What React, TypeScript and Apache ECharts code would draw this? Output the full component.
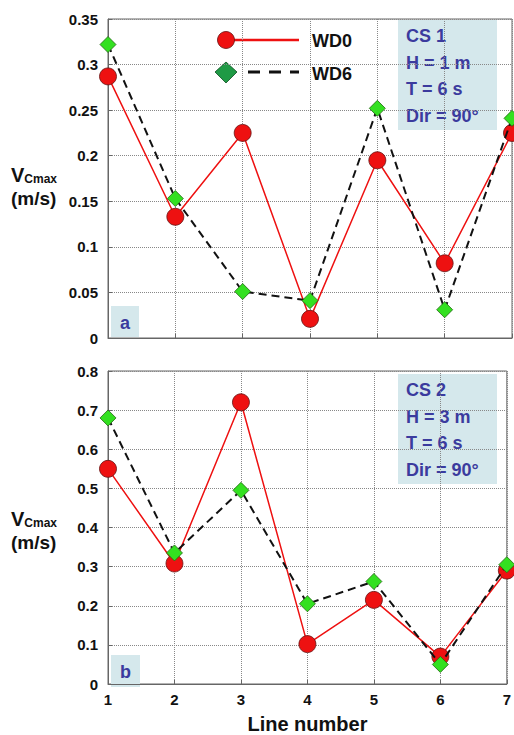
import React, { useEffect, useRef } from "react";
import * as echarts from "echarts";

const lineNumbers = [1, 2, 3, 4, 5, 6, 7];
const cs1WD0 = [0.287, 0.133, 0.225, 0.021, 0.195, 0.082, 0.225];
const cs1WD6 = [0.322, 0.153, 0.051, 0.041, 0.252, 0.031, 0.241];
const cs2WD0 = [0.55, 0.308, 0.72, 0.102, 0.215, 0.07, 0.29];
const cs2WD6 = [0.68, 0.335, 0.495, 0.205, 0.262, 0.05, 0.305];
const cs1Info = ["CS 1", "H = 1 m", "T = 6 s", "Dir = 90°"];
const cs2Info = ["CS 2", "H = 3 m", "T = 6 s", "Dir = 90°"];

const FONT = "'Liberation Sans', Arial, sans-serif";
const BLUE = "#3b3b9e";
const BOXBG = "#d5e8ec";

function pairs(xs: number[], ys: number[]) {
  return xs.map((x, i) => [x, ys[i]]);
}

function infoBox(x: number, y: number, lines: string[]) {
  return {
    type: "group",
    x,
    y,
    children: [
      { type: "rect", shape: { x: 0, y: 0, width: 99, height: 110 }, style: { fill: BOXBG } },
      ...lines.map((t, i) => ({
        type: "text",
        x: 8,
        y: 16 + i * 26.5,
        style: { text: t, fill: BLUE, font: `bold 18px ${FONT}`, textVerticalAlign: "middle" },
      })),
    ],
  };
}

function letterBox(x: number, y: number, w: number, h: number, t: string) {
  return {
    type: "group",
    x,
    y,
    children: [
      { type: "rect", shape: { x: 0, y: 0, width: w, height: h }, style: { fill: BOXBG } },
      {
        type: "text",
        x: w / 2,
        y: h / 2 + 1,
        style: { text: t, fill: BLUE, font: `bold 18px ${FONT}`, textAlign: "center", textVerticalAlign: "middle" },
      },
    ],
  };
}

function yTitle(x: number, y: number) {
  return {
    type: "text",
    x,
    y,
    style: {
      text: "{v|V}{s|Cmax}\n{u|(m/s)}",
      fill: "#111",
      rich: {
        v: { font: `bold 20px ${FONT}`, fill: "#111", lineHeight: 26, verticalAlign: "bottom" },
        s: { font: `bold 12px ${FONT}`, fill: "#111", lineHeight: 26, verticalAlign: "bottom" },
        u: { font: `bold 19px ${FONT}`, fill: "#111", lineHeight: 26 },
      },
    },
  };
}

export default function App() {
  const ref = useRef<HTMLDivElement>(null);
  useEffect(() => {
    if (!ref.current) return;
    const chart = echarts.init(ref.current, null, { renderer: "svg" });
    const axisLabel = { color: "#111", fontFamily: FONT, fontWeight: "bold", fontSize: 15 };
    const splitLine = { show: true, lineStyle: { type: "dotted", color: "#888", width: 1 } };
    const xAxisBase = {
      type: "value",
      min: 1,
      max: 7,
      interval: 1,
      axisLine: { show: true, lineStyle: { color: "#666" } },
      axisTick: { show: true, inside: true, length: 4, lineStyle: { color: "#666" } },
      splitLine,
    };
    const yAxisBase = {
      type: "value",
      min: 0,
      axisLine: { show: true, lineStyle: { color: "#666" } },
      axisTick: { show: true, inside: true, length: 4, lineStyle: { color: "#666" } },
      splitLine,
      axisLabel: { ...axisLabel, margin: 10 },
    };
    const wd0 = (data: number[][], xi: number) => ({
      type: "line",
      xAxisIndex: xi,
      yAxisIndex: xi,
      data,
      symbol: "circle",
      symbolSize: 17,
      itemStyle: { color: "#ee1111", borderColor: "#661111", borderWidth: 0.8 },
      lineStyle: { color: "#ee1111", width: 1.5 },
      z: 3,
    });
    const wd6 = (data: number[][], xi: number) => ({
      type: "line",
      xAxisIndex: xi,
      yAxisIndex: xi,
      data,
      symbol: "diamond",
      symbolSize: 16,
      itemStyle: { color: "#33e020", borderColor: "#226611", borderWidth: 0.8 },
      lineStyle: { color: "#111", width: 2, type: [8, 5] },
      z: 4,
    });
    chart.setOption({
      animation: false,
      backgroundColor: "#fff",
      grid: [
        { left: 108, top: 19, width: 404, height: 319, show: true, borderColor: "#666", borderWidth: 1, backgroundColor: "transparent" },
        { left: 108, top: 371, width: 404, height: 317, show: true, borderColor: "#666", borderWidth: 1, backgroundColor: "transparent" },
      ],
      xAxis: [
        { ...xAxisBase, gridIndex: 0, axisLabel: { show: false } },
        {
          ...xAxisBase,
          gridIndex: 1,
          axisLabel: { ...axisLabel, margin: 8 },
          name: "Line number",
          nameLocation: "middle",
          nameGap: 30,
          nameTextStyle: { color: "#111", fontFamily: FONT, fontWeight: "bold", fontSize: 20 },
        },
      ],
      yAxis: [
        { ...yAxisBase, gridIndex: 0, max: 0.35, interval: 0.05 },
        { ...yAxisBase, gridIndex: 1, max: 0.8, interval: 0.1 },
      ],
      series: [
        wd0(pairs(lineNumbers, cs1WD0), 0),
        wd6(pairs(lineNumbers, cs1WD6), 0),
        wd0(pairs(lineNumbers, cs2WD0), 1),
        wd6(pairs(lineNumbers, cs2WD6), 1),
      ],
      graphic: [
        infoBox(398, 20, cs1Info),
        infoBox(398, 374, cs2Info),
        letterBox(111, 306, 28, 31, "a"),
        letterBox(111, 655, 29, 32, "b"),
        yTitle(11, 159),
        yTitle(11, 503),
        { type: "line", shape: { x1: 226, y1: 40, x2: 299, y2: 40 }, style: { stroke: "#ee1111", lineWidth: 2.5 } },
        { type: "circle", shape: { cx: 226, cy: 40, r: 8.5 }, style: { fill: "#ee1111", stroke: "#661111", lineWidth: 0.8 } },
        { type: "line", shape: { x1: 248, y1: 72, x2: 299, y2: 72 }, style: { stroke: "#111", lineWidth: 3, lineDash: [12, 9] } },
        { type: "polygon", shape: { points: [[226, 62], [237, 72], [226, 83], [215, 72]] }, style: { fill: "#1f9a45", stroke: "#0d4d20", lineWidth: 0.8 } },
        { type: "text", x: 312, y: 41, style: { text: "WD0", fill: "#111", font: `bold 18px ${FONT}`, textVerticalAlign: "middle" } },
        { type: "text", x: 312, y: 74, style: { text: "WD6", fill: "#111", font: `bold 18px ${FONT}`, textVerticalAlign: "middle" } },
      ],
    });
    return () => chart.dispose();
  }, []);
  return (
    <div
      ref={ref}
      style={{ position: "fixed", left: 0, top: 0, width: 514, height: 735 }}
    />
  );
}
